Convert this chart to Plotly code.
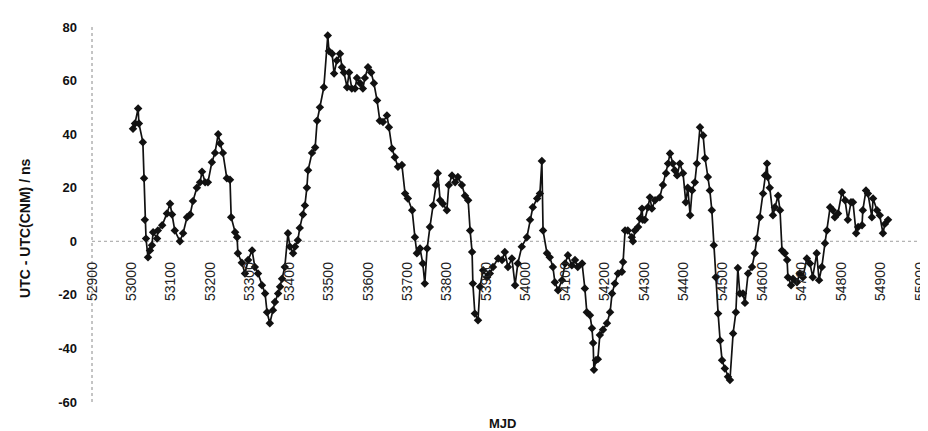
import plotly.graph_objects as go

# MJD (days) and UTC - UTC(CNM) (ns)
mjd = [
    53004, 53009, 53017, 53019, 53029, 53032, 53034, 53037, 53042, 53047,
    53052, 53055, 53065, 53067, 53078, 53090, 53098, 53103, 53110, 53123,
    53131, 53141, 53149, 53156, 53166, 53174, 53179, 53187, 53194, 53204,
    53212, 53220, 53225, 53232, 53242, 53250, 53253, 53263, 53268, 53270,
    53280, 53288, 53296, 53306, 53313, 53321, 53331, 53339, 53344, 53351,
    53359, 53364, 53372, 53377, 53382, 53389, 53397, 53402, 53410, 53415,
    53422, 53427, 53435, 53440, 53445, 53448, 53458, 53466, 53471, 53478,
    53488, 53498, 53501, 53509, 53514, 53521, 53529, 53534, 53539, 53547,
    53552, 53559, 53567, 53572, 53580, 53587, 53592, 53600, 53608, 53615,
    53623, 53630, 53638, 53648, 53653, 53661, 53668, 53676, 53686, 53694,
    53701, 53712, 53719, 53724, 53732, 53739, 53744, 53750, 53757, 53765,
    53772, 53777, 53783, 53790, 53800, 53805, 53813, 53821, 53828, 53838,
    53846, 53854, 53859, 53864, 53866, 53871, 53879, 53884, 53892, 53902,
    53909, 53917, 53930, 53940, 53947, 53955, 53965, 53973, 53980, 53990,
    54003, 54011, 54018, 54029, 54036, 54041, 54044, 54054, 54061, 54069,
    54074, 54082, 54092, 54100, 54107, 54117, 54125, 54132, 54143, 54150,
    54155, 54163, 54168, 54171, 54173, 54178, 54183, 54188, 54196, 54206,
    54214, 54219, 54226, 54234, 54244, 54247, 54252, 54259, 54269, 54272,
    54277, 54285, 54290, 54295, 54297, 54302, 54310, 54315, 54320, 54328,
    54340, 54348, 54356, 54361, 54366, 54373, 54378, 54384, 54391, 54399,
    54406, 54411, 54417, 54422, 54429, 54434, 54442, 54450, 54455, 54462,
    54467, 54472, 54477, 54482, 54488, 54493, 54498, 54505, 54513, 54518,
    54526, 54533, 54538, 54543, 54551, 54556, 54564, 54574, 54581, 54586,
    54594, 54602, 54607, 54612, 54614, 54619, 54627, 54632, 54640, 54645,
    54650, 54657, 54663, 54665, 54673, 54678, 54688, 54695, 54703, 54713,
    54721, 54728, 54738, 54744, 54751, 54759, 54764, 54772, 54779, 54784,
    54792, 54802, 54810, 54817, 54825, 54830, 54838, 54843, 54853, 54855,
    54863, 54868, 54878, 54881, 54891, 54898, 54906, 54911, 54919,
]
offset_ns = [
    42.0, 44.0, 49.6, 44.0, 37.0, 23.5, 8.0, 1.0, -6.0, -3.4,
    -1.5, 3.4, 1.0, 4.0, 6.0, 10.4, 14.0, 10.0, 4.0, 0.0,
    3.0, 9.0, 10.0, 15.0, 20.0, 22.0, 26.0, 22.0, 22.0, 29.5,
    33.0, 40.0, 36.5, 33.0, 23.5, 23.0, 9.0, 3.4, 1.5, -4.5,
    -8.0, -12.0, -7.0, -3.4, -9.6, -12.0, -16.4, -19.5, -26.5, -30.6,
    -25.7, -22.7, -19.5, -17.0, -14.0, -9.6, 3.0, -2.0, -4.5, -2.0,
    0.4, 5.0, 10.0, 13.4, 20.0, 26.5, 33.0, 35.0, 45.0, 50.0,
    57.5, 76.8, 71.0, 70.0, 62.6, 67.5, 70.0, 65.0, 63.0, 57.5,
    63.0, 57.0, 57.0, 61.0, 59.0, 57.0, 61.0, 65.0, 63.0, 59.0,
    52.6, 45.0, 44.5, 47.0, 42.6, 34.6, 31.4, 27.8, 28.5, 17.8,
    16.0, 11.6, 1.5, -4.5, -2.7, -8.3, -15.8, -2.7, 5.3, 13.4,
    21.0, 25.4, 15.3, 14.0, 11.6, 21.0, 24.6, 22.0, 24.0, 21.0,
    17.0, 15.3, 4.0, -4.0, -15.8, -27.0, -29.5, -17.0, -10.8, -13.4,
    -12.0, -9.6, -6.4, -7.0, -4.0, -9.6, -6.4, -16.4, -8.3, -2.0,
    1.5, 8.0, 12.7, 16.0, 17.8, 30.0, 4.0, -4.5, -6.0, -9.6,
    -15.3, -18.3, -14.5, -8.3, -5.2, -9.0, -7.0, -9.6, -8.3, -17.6,
    -26.5, -27.6, -32.5, -38.0, -48.0, -44.4, -44.0, -35.0, -33.0, -30.6,
    -26.5, -19.5, -15.8, -12.0, -11.4, -7.7, 4.0, 4.0, 1.5, 0.0,
    4.0, 5.3, 8.5, 12.2, 8.0, 8.0, 12.7, 16.4, 12.2, 15.3,
    16.4, 21.0, 25.4, 29.0, 32.8, 29.0, 26.5, 24.6, 29.0, 25.4,
    14.6, 20.0, 9.7, 19.0, 22.0, 29.0, 42.6, 39.5, 31.0, 24.0,
    19.0, 11.6, -1.5, -13.4, -27.0, -37.0, -44.4, -47.5, -50.6, -51.8,
    -34.4, -26.5, -10.0, -19.5, -19.5, -23.0, -12.0, -9.6, -4.5, 1.0,
    9.0, 17.8, 24.6, 29.0, 24.0, 20.0, 9.7, 12.7, 17.0, 11.6,
    -3.4, -4.5, -7.0, -13.4, -16.4, -14.0, -15.3, -12.0, -13.4, -6.4,
    -8.3, -13.4, -4.5, -14.5, -9.6, -0.7, 4.0, 12.7, 11.6, 9.0,
    10.4, 18.3, 15.3, 8.0, 14.6, 14.6, 3.0, 5.3, 6.0, 11.6,
    19.0, 17.8, 9.0, 16.0, 11.6, 9.7, 3.0, 6.5, 8.0,
]

x_ticks = [52900, 53000, 53100, 53200, 53300, 53400, 53500, 53600, 53700,
           53800, 53900, 54000, 54100, 54200, 54300, 54400, 54500, 54600,
           54700, 54800, 54900, 55000]
x_tick_labels = [str(v) for v in x_ticks]
y_ticks = [-60, -40, -20, 0, 20, 40, 60, 80]
y_tick_labels = [str(v) for v in y_ticks]

X_MIN, X_MAX = 52900, 55000
Y_MIN, Y_MAX = -60, 80

fig = go.Figure()
fig.add_trace(go.Scatter(
    x=mjd, y=offset_ns, mode="lines+markers",
    line=dict(color="#111111", width=1.7),
    marker=dict(symbol="diamond", size=6.5, color="#111111"),
    showlegend=False, hoverinfo="x+y",
))

# dotted axis lines (y axis at left edge, x axis through zero)
fig.add_shape(type="line", xref="paper", yref="y", x0=0, x1=0, y0=Y_MIN, y1=Y_MAX,
              line=dict(color="#8a8a8a", width=1, dash="dot"), layer="below")
fig.add_shape(type="line", xref="x", yref="y", x0=X_MIN, x1=X_MAX, y0=0, y1=0,
              line=dict(color="#a0a0a0", width=1, dash="dot"), layer="below")

zero_pos = (0 - Y_MIN) / (Y_MAX - Y_MIN)

# the page body adds an 8px margin, so the figure is sized to compensate
fig.update_layout(
    width=920, height=423,
    margin=dict(l=84, r=8, t=19, b=29),
    paper_bgcolor="white", plot_bgcolor="white",
    font=dict(family="Liberation Sans, Arial, sans-serif", color="#111111"),
    xaxis=dict(
        range=[X_MIN, X_MAX], tickvals=x_ticks, ticktext=x_tick_labels,
        tickangle=-90, anchor="free", position=zero_pos,
        showgrid=False, zeroline=False, showline=False, ticks="",
        tickfont=dict(size=14, color="#222222"), ticklabelstandoff=17,
        automargin=False,
    ),
    yaxis=dict(
        range=[Y_MIN, Y_MAX], tickvals=y_ticks, ticktext=y_tick_labels,
        showgrid=False, zeroline=False, showline=False, ticks="",
        tickfont=dict(size=13, color="#111111", weight="bold"),
        ticklabelstandoff=14, automargin=False,
    ),
    annotations=[
        dict(text="<b>UTC - UTC(CNM) / ns</b>", xref="paper", yref="paper",
             x=-0.081, y=0.464, textangle=-90, showarrow=False,
             font=dict(size=14, color="#111111"), xanchor="center", yanchor="middle"),
        dict(text="<b>MJD</b>", xref="paper", yref="paper",
             x=0.496, y=-0.056, showarrow=False,
             font=dict(size=13, color="#111111"), xanchor="center", yanchor="middle"),
    ],
)

fig.write_html("out.html")
